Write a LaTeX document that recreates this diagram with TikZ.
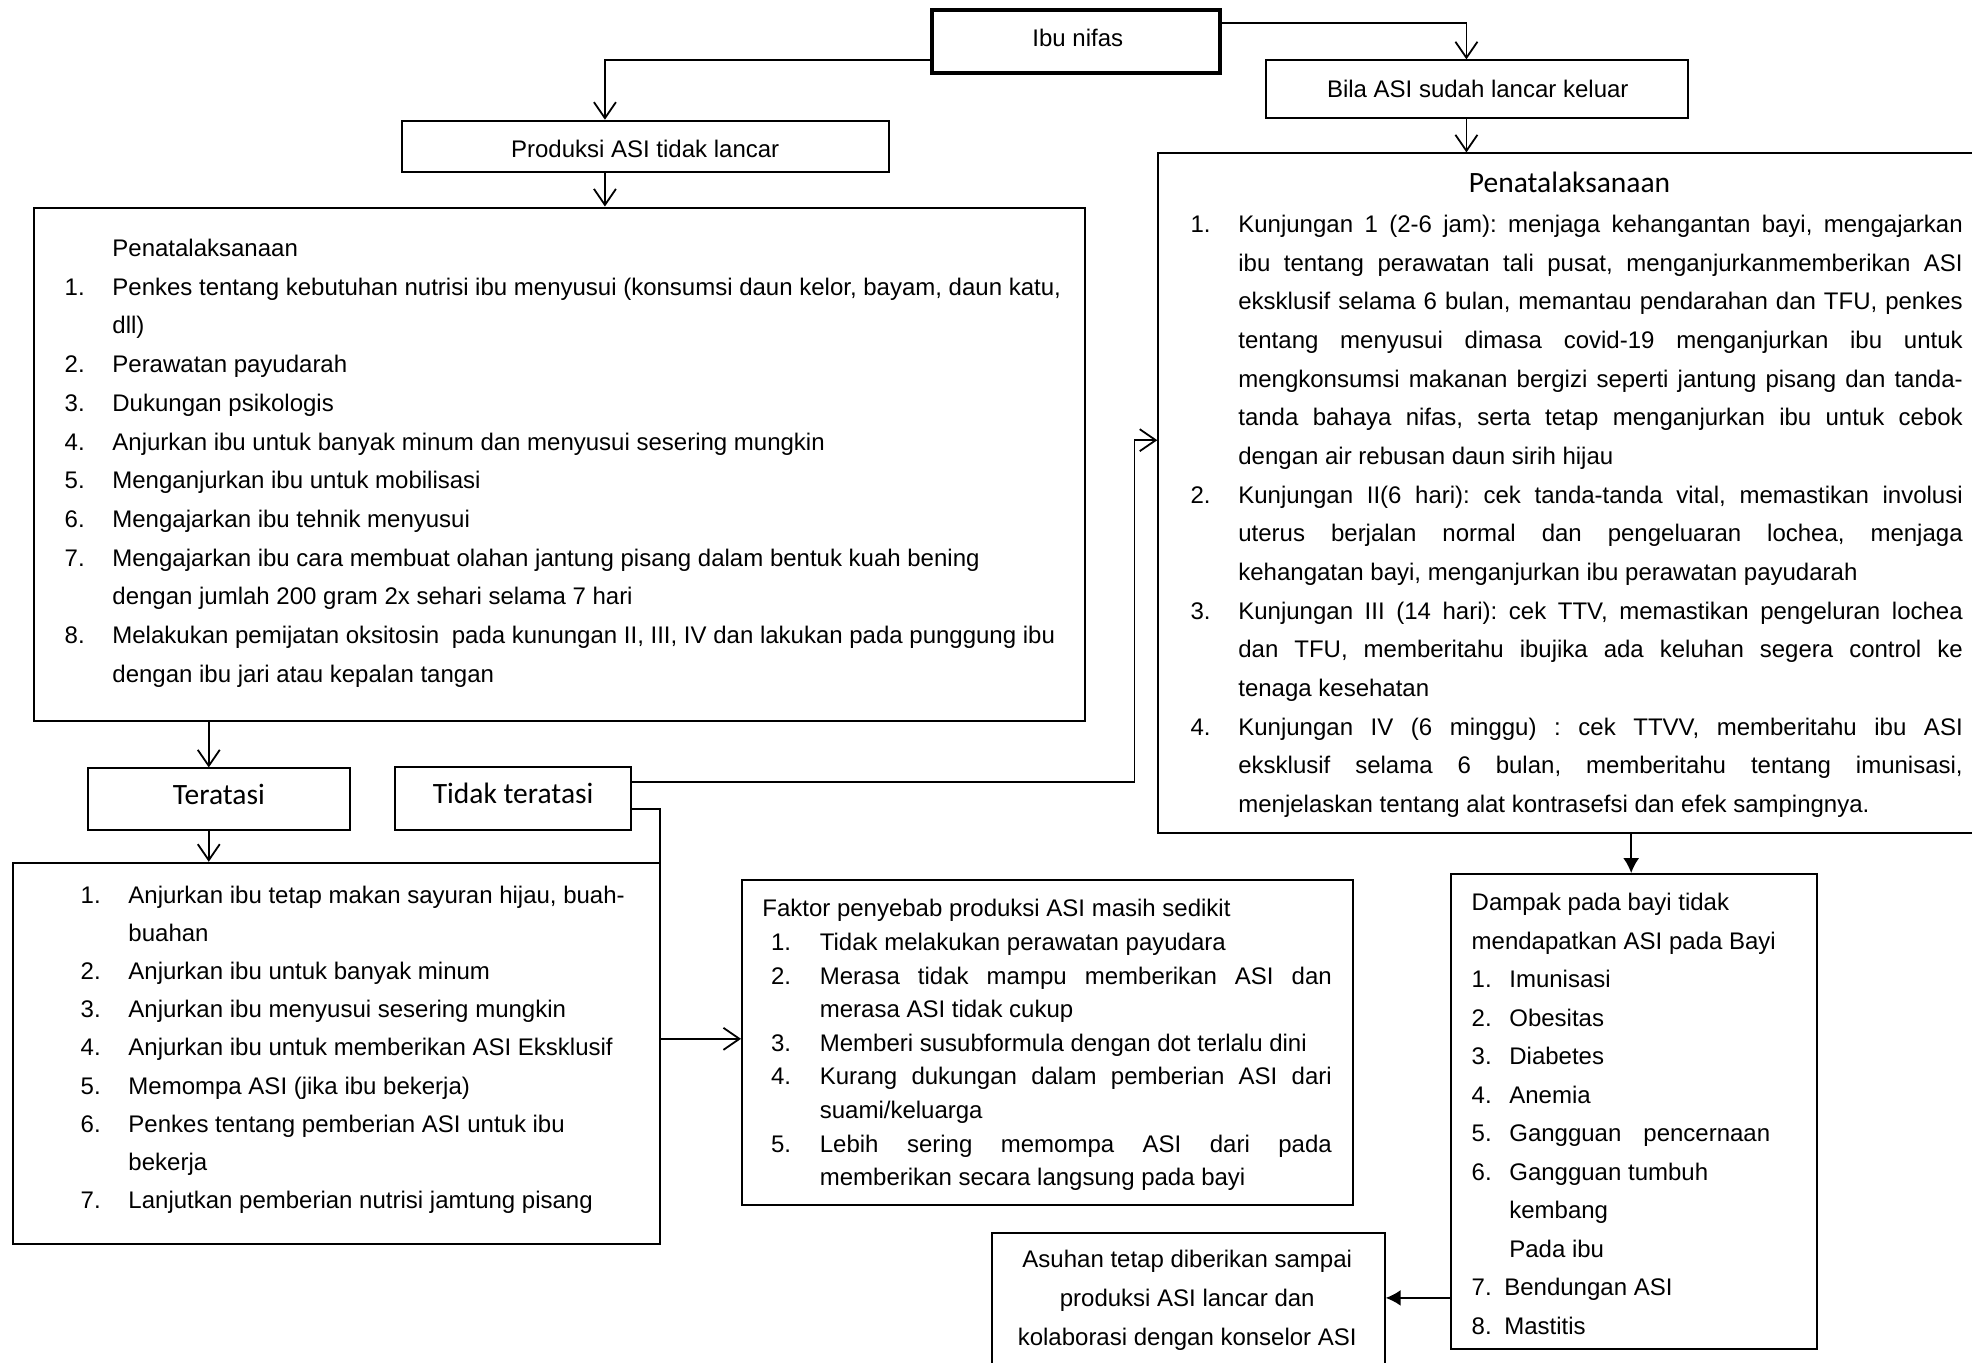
\documentclass[tikz,border=0pt]{standalone}
\usepackage{fontspec}
\setmainfont{Liberation Sans}
\newfontfamily\calfont{Carlito}
\usetikzlibrary{arrows.meta,fit}
\newcommand\numc[2]{\makebox[#1][l]{#2}}
\newcommand\jline[2]{\makebox[#1][s]{#2}}
\newcommand\bodyfont[1]{\fontsize{24}{#1}\selectfont}
\frenchspacing
\begin{document}
\begin{tikzpicture}[x=1.2577pt,y=-1.2577pt,
  box/.style={draw, line width=2pt, inner sep=0pt},
  txt/.style={inner sep=0pt, font=\bodyfont{30}},
  ctxt/.style={inner sep=0pt, font=\calfont\fontsize{29.5}{32}\selectfont},
  arr/.style={line width=1.8pt, -{Straight Barb[length=16pt,width=22pt]}},
  farr/.style={line width=1.8pt, -{Latex[length=15pt,width=16pt]}}]
\useasboundingbox (0,0) rectangle (1568,1083);
\fill[white] (0,0) rectangle (1568,1083);

% ---------- boxes ----------
\node[box, line width=3.5pt, fit={(741,8) (970,58)}] (ibu) {};
\node[box, fit={(1007,48) (1342,94)}] (bila) {};
\node[box, fit={(320,96) (707,137)}] (prod) {};
\node[box, fit={(27,165) (863,573)}] (lbox) {};
\node[box, fit={(921,122) (1580,662)}] (rbox) {};
\node[box, fit={(70,611) (278,660)}] (ter) {};
\node[box, fit={(314,610) (502,660)}] (tid) {};
\node[box, fit={(10,686) (525,989)}] (blbox) {};
\node[box, fit={(590,700) (1075.5,958.5)}] (fak) {};
\node[box, fit={(1153.5,695) (1445,1072.5)}] (dam) {};
\node[box, fit={(789,980) (1101,1095)}] (asu) {};

% ---------- short labels ----------
\node[txt] (ibut) at (857,30) {\bodyfont{30}Ibu nifas};
\node[txt] (bilat) at (1175,71) {\bodyfont{30}Bila ASI sudah lancar keluar};
\node[txt] (prodt) at (513,118.5) {\bodyfont{30}Produksi ASI tidak lancar};
\node[ctxt] (tert) at (174,632) {Teratasi};
\node[ctxt] (tidt) at (408,631) {Tidak teratasi};
\node[ctxt, anchor=base] (rtitle) at (1248,153) {Penatalaksanaan};

% ---------- left management box ----------
\node[txt, anchor=base west] (ltext) at (51.3,204) {\parbox[t]{1100pt}{\bodyfont{38.7}%
\hspace*{47.7pt}Penatalaksanaan\\
\numc{47.7pt}{1.}Penkes tentang kebutuhan nutrisi ibu menyusui (konsumsi daun kelor, bayam, daun katu,\\
\hspace*{47.7pt}dll)\\
\numc{47.7pt}{2.}Perawatan payudarah\\
\numc{47.7pt}{3.}Dukungan psikologis\\
\numc{47.7pt}{4.}Anjurkan ibu untuk banyak minum dan menyusui sesering mungkin\\
\numc{47.7pt}{5.}Menganjurkan ibu untuk mobilisasi\\
\numc{47.7pt}{6.}Mengajarkan ibu tehnik menyusui\\
\numc{47.7pt}{7.}Mengajarkan ibu cara membuat olahan jantung pisang dalam bentuk kuah bening\\
\hspace*{47.7pt}dengan jumlah 200 gram 2x sehari selama 7 hari\\
\numc{47.7pt}{8.}Melakukan pemijatan oksitosin\hspace{6pt} pada kunungan II, III, IV dan lakukan pada punggung ibu\\
\hspace*{47.7pt}dengan ibu jari atau kepalan tangan}};

% ---------- right management box ----------
\node[txt, anchor=base west] (rtext) at (946.5,185) {\parbox[t]{800pt}{\bodyfont{38.65}%
\numc{47.8pt}{1.}\jline{724.4pt}{Kunjungan 1 (2-6 jam): menjaga kehangantan bayi, mengajarkan}\\
\hspace*{47.8pt}\jline{724.4pt}{ibu tentang perawatan tali pusat, menganjurkanmemberikan ASI}\\
\hspace*{47.8pt}\jline{724.4pt}{eksklusif selama 6 bulan, memantau pendarahan dan TFU, penkes}\\
\hspace*{47.8pt}\jline{724.4pt}{tentang menyusui dimasa covid-19 menganjurkan ibu untuk}\\
\hspace*{47.8pt}\jline{724.4pt}{mengkonsumsi makanan bergizi seperti jantung pisang dan tanda-}\\
\hspace*{47.8pt}\jline{724.4pt}{tanda bahaya nifas, serta tetap menganjurkan ibu untuk cebok}\\
\hspace*{47.8pt}dengan air rebusan daun sirih hijau\\
\numc{47.8pt}{2.}\jline{724.4pt}{Kunjungan II(6 hari): cek tanda-tanda vital, memastikan involusi}\\
\hspace*{47.8pt}\jline{724.4pt}{uterus berjalan normal dan pengeluaran lochea, menjaga}\\
\hspace*{47.8pt}kehangatan bayi, menganjurkan ibu perawatan payudarah\\
\numc{47.8pt}{3.}\jline{724.4pt}{Kunjungan III (14 hari): cek TTV, memastikan pengeluran lochea}\\
\hspace*{47.8pt}\jline{724.4pt}{dan TFU, memberitahu ibujika ada keluhan segera control ke}\\
\hspace*{47.8pt}tenaga kesehatan\\
\numc{47.8pt}{4.}\jline{724.4pt}{Kunjungan IV (6 minggu) : cek TTVV, memberitahu ibu ASI}\\
\hspace*{47.8pt}\jline{724.4pt}{eksklusif selama 6 bulan, memberitahu tentang imunisasi,}\\
\hspace*{47.8pt}menjelaskan tentang alat kontrasefsi dan efek sampingnya.}};

% ---------- bottom-left box ----------
\node[txt, anchor=base west] (bltext) at (64,718) {\parbox[t]{700pt}{\bodyfont{38.2}%
\numc{47.8pt}{1.}Anjurkan ibu tetap makan sayuran hijau, buah-\\
\hspace*{47.8pt}buahan\\
\numc{47.8pt}{2.}Anjurkan ibu untuk banyak minum\\
\numc{47.8pt}{3.}Anjurkan ibu menyusui sesering mungkin\\
\numc{47.8pt}{4.}Anjurkan ibu untuk memberikan ASI Eksklusif\\
\numc{47.8pt}{5.}Memompa ASI (jika ibu bekerja)\\
\numc{47.8pt}{6.}Penkes tentang pemberian ASI untuk ibu\\
\hspace*{47.8pt}bekerja\\
\numc{47.8pt}{7.}Lanjutkan pemberian nutrisi jamtung pisang}};

% ---------- factors box ----------
\node[txt, anchor=base west] (faktext) at (606,729) {\parbox[t]{700pt}{\bodyfont{33.6}%
Faktor penyebab produksi ASI masih sedikit\\
\hspace*{8.8pt}\numc{48.7pt}{1.}Tidak melakukan perawatan payudara\\
\hspace*{8.8pt}\numc{48.7pt}{2.}\jline{512pt}{Merasa tidak mampu memberikan ASI dan}\\
\hspace*{57.5pt}merasa ASI tidak cukup\\
\hspace*{8.8pt}\numc{48.7pt}{3.}Memberi susubformula dengan dot terlalu dini\\
\hspace*{8.8pt}\numc{48.7pt}{4.}\jline{512pt}{Kurang dukungan dalam pemberian ASI dari}\\
\hspace*{57.5pt}suami/keluarga\\
\hspace*{8.8pt}\numc{48.7pt}{5.}\jline{512pt}{Lebih sering memompa ASI dari pada}\\
\hspace*{57.5pt}memberikan secara langsung pada bayi}};

% ---------- impact box ----------
\node[txt, anchor=base west] (damtext) at (1170,724) {\parbox[t]{400pt}{\bodyfont{38.5}%
Dampak pada bayi tidak\\
mendapatkan ASI pada Bayi\\
\numc{37.7pt}{1.}Imunisasi\\
\numc{37.7pt}{2.}Obesitas\\
\numc{37.7pt}{3.}Diabetes\\
\numc{37.7pt}{4.}Anemia\\
\numc{37.7pt}{5.}Gangguan\hspace{22pt}pencernaan\\
\numc{37.7pt}{6.}Gangguan tumbuh\\
\hspace*{37.7pt}kembang\\
\hspace*{37.7pt}Pada ibu\\
\numc{32.7pt}{7.}Bendungan ASI\\
\numc{32.7pt}{8.}Mastitis}};

% ---------- care box ----------
\node[txt, anchor=base] (asutext) at (944,1008) {\parbox[t]{420pt}{\centering\bodyfont{39}%
Asuhan tetap diberikan sampai\\
produksi ASI lancar dan\\
kolaborasi dengan konselor ASI}};

% ---------- connectors ----------
\coordinate (h1) at (481,48);
\coordinate (h2) at (1166,18);
\coordinate (h3) at (166,0);
\coordinate (h4) at (902,621.5);
\coordinate (h5) at (902,350);
\coordinate (h6) at (525,643);
\coordinate (h7) at (525,826);
\coordinate (h8) at (1297,0);
\coordinate (h9) at (0,1032);

\draw[arr] (ibu.west |- h1) -- (h1) -- (prod.north -| h1);
\draw[arr] (ibu.east |- h2) -- (h2) -- (bila.north -| h2);
\draw[arr] (bila.south -| h2) -- (rbox.north -| h2);
\draw[arr] (prod.south -| h1) -- (lbox.north -| h1);
\draw[arr] (lbox.south -| h3) -- (ter.north -| h3);
\draw[arr] (ter.south -| h3) -- (blbox.north -| h3);
\draw[arr] (tid.east |- h4) -- (h4) -- (h5) -- (rbox.west |- h5);
\draw[arr] (tid.east |- h6) -- (h6) -- (h7) -- (fak.west |- h7);
\draw[farr] (rbox.south -| h8) -- (dam.north -| h8);
\draw[farr] (dam.west |- h9) -- (asu.east |- h9);
\end{tikzpicture}
\end{document}
